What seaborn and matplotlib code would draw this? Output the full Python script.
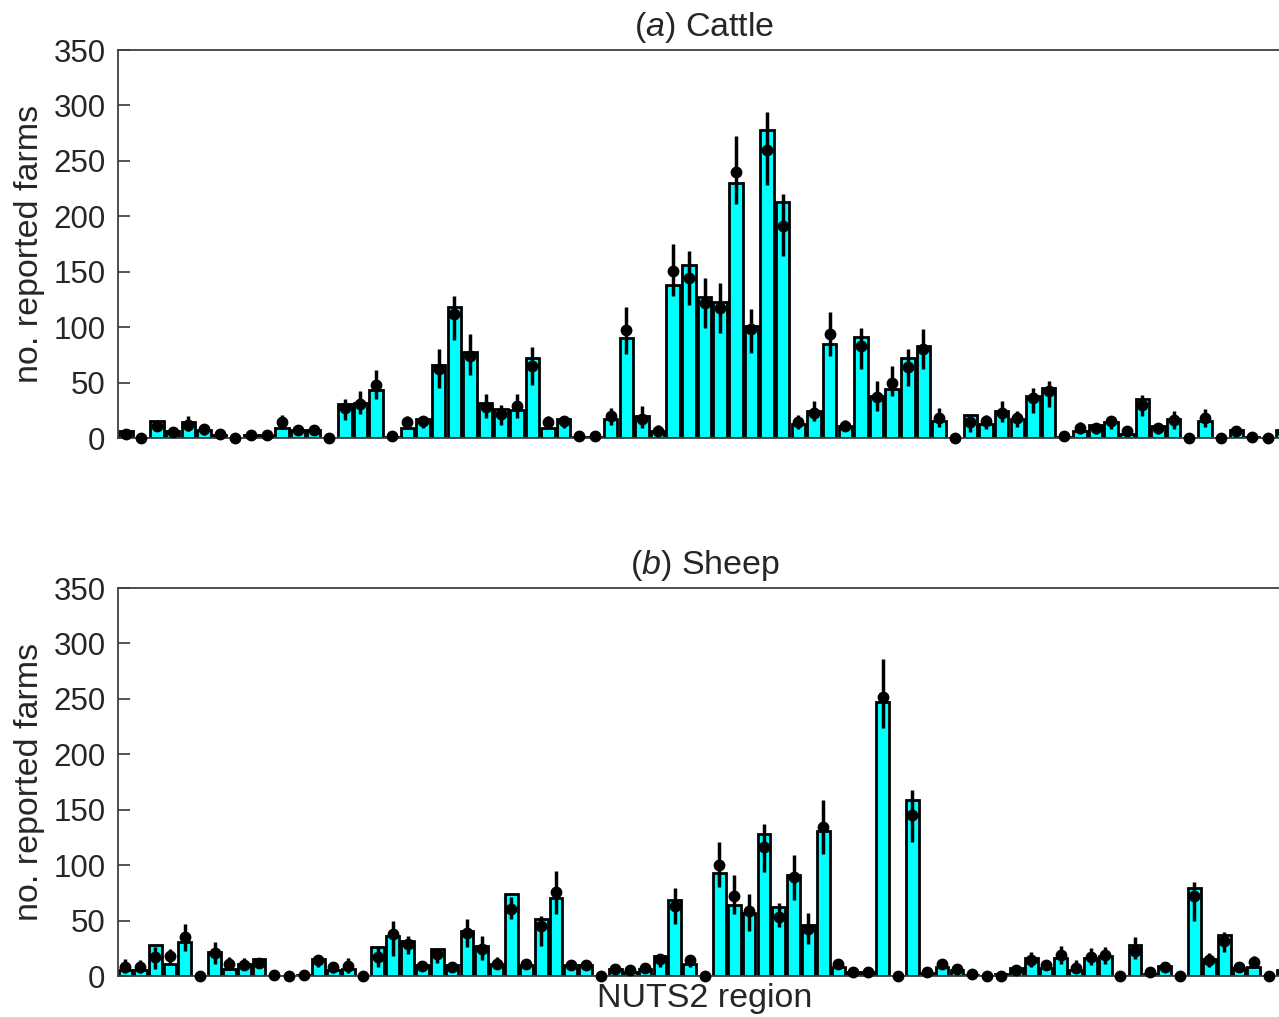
import numpy as np
import pandas as pd
import matplotlib
matplotlib.use("Agg")
import matplotlib.pyplot as plt
import seaborn as sns

# Cattle: reported farms per NUTS2 region, model mean and its interval
cattle_obs = [6, 0, 15, 6, 14, 7, 3, 0, 3, 3,
              9, 7, 7, 0, 31, 32, 43, 1, 9, 17,
              66, 118, 78, 32, 26, 25, 72, 9, 17, 1,
              1, 17, 90, 20, 6, 138, 156, 127, 123, 230,
              101, 278, 213, 13, 24, 85, 11, 91, 38, 44,
              72, 83, 15, 0, 21, 13, 24, 17, 38, 45,
              1, 6, 12, 14, 4, 35, 11, 17, 0, 15,
              0, 7, 1, 0, 7]
cattle_model = [4, 0, 11, 5, 12, 8, 4, 0, 3, 3,
                14, 7, 7, 0, 27, 31, 48, 2, 14, 15,
                62, 112, 74, 28, 22, 29, 65, 14, 15, 2,
                2, 20, 97, 17, 6, 151, 144, 122, 117, 240,
                98, 260, 191, 14, 23, 94, 11, 83, 37, 50,
                64, 80, 18, 0, 14, 15, 23, 18, 36, 42,
                2, 9, 9, 15, 6, 30, 9, 16, 0, 18,
                0, 6, 1, 0, 5]
cattle_lo = [1, 0, 6, 2, 6, 3, 1, 0, 1, 1,
             8, 3, 3, 0, 16, 22, 35, 0, 8, 9,
             45, 88, 57, 18, 12, 18, 48, 8, 9, 0,
             0, 12, 76, 9, 2, 128, 120, 99, 95, 211,
             77, 228, 164, 8, 15, 74, 6, 62, 24, 38,
             47, 62, 10, 0, 5, 8, 14, 10, 23, 28,
             0, 4, 4, 8, 2, 20, 4, 8, 0, 10,
             0, 2, 0, 0, 2]
cattle_hi = [8, 1, 16, 8, 20, 13, 7, 1, 6, 5,
             21, 10, 10, 1, 35, 42, 61, 4, 20, 20,
             80, 128, 94, 40, 30, 40, 82, 20, 20, 3,
             3, 27, 118, 29, 12, 175, 169, 144, 140, 272,
             116, 294, 220, 21, 33, 114, 16, 99, 51, 65,
             80, 98, 27, 1, 21, 21, 33, 24, 45, 51,
             4, 14, 12, 20, 11, 39, 11, 24, 1, 26,
             1, 8, 3, 1, 10]

# Sheep: reported farms per NUTS2 region, model mean and its interval
sheep_obs = [5, 5, 28, 11, 31, 0, 22, 6, 11, 15,
             0, 0, 1, 15, 5, 6, 0, 26, 36, 32,
             10, 24, 10, 41, 27, 11, 74, 10, 51, 70,
             10, 10, 0, 6, 4, 6, 18, 69, 11, 0,
             93, 64, 57, 128, 62, 91, 46, 131, 8, 4,
             4, 247, 0, 159, 3, 8, 5, 1, 0, 2,
             7, 16, 7, 16, 5, 16, 18, 0, 28, 2,
             9, 0, 79, 15, 37, 7, 8, 0, 5]
sheep_model = [8, 8, 17, 18, 35, 0, 21, 11, 10, 12,
               1, 0, 1, 14, 8, 9, 0, 17, 38, 29,
               9, 20, 8, 39, 24, 11, 60, 11, 45, 76,
               10, 10, 0, 6, 5, 7, 15, 63, 14, 0,
               100, 72, 59, 116, 53, 89, 42, 134, 11, 4,
               4, 252, 0, 145, 4, 11, 6, 2, 0, 0,
               5, 14, 10, 19, 7, 17, 19, 0, 23, 4,
               8, 0, 72, 14, 32, 8, 13, 0, 4]
sheep_lo = [3, 3, 6, 11, 23, 0, 11, 5, 5, 7,
            0, 0, 0, 8, 3, 3, 0, 8, 18, 20,
            5, 12, 4, 26, 14, 6, 51, 7, 27, 56,
            6, 6, 0, 3, 2, 3, 8, 47, 8, 0,
            80, 56, 41, 94, 44, 69, 29, 110, 6, 1,
            1, 224, 0, 121, 1, 6, 2, 0, 0, 0,
            2, 8, 5, 11, 3, 10, 11, 0, 15, 1,
            5, 0, 50, 8, 22, 4, 7, 0, 1]
sheep_hi = [15, 14, 26, 24, 47, 1, 31, 17, 16, 15,
            2, 1, 3, 19, 13, 16, 1, 27, 50, 36,
            12, 24, 12, 51, 36, 17, 71, 14, 54, 95,
            14, 13, 1, 8, 8, 10, 20, 79, 18, 1,
            121, 91, 74, 137, 66, 109, 57, 159, 15, 7,
            7, 286, 1, 168, 6, 15, 9, 4, 1, 1,
            10, 22, 13, 27, 14, 25, 26, 1, 35, 8,
            10, 1, 85, 21, 40, 13, 18, 1, 8]

y_ticks = [0, 50, 100, 150, 200, 250, 300, 350]
titles = [r"($\mathit{a}$) Cattle", r"($\mathit{b}$) Sheep"]
y_label = "no. reported farms"
x_label = "NUTS2 region"

sns.set_style("white")
plt.rcParams.update({
    "font.family": ["Liberation Sans", "DejaVu Sans"],
    "mathtext.fontset": "custom",
    "mathtext.rm": "Liberation Sans",
    "mathtext.it": "Liberation Sans:italic",
})

TXT = "#262626"
LABEL_FS = 24.5
TICK_FS = 22.5
W, H = 1279, 1017
fig = plt.figure(figsize=(W / 100, H / 100), dpi=100)
ax_a = fig.add_axes([118 / W, 1 - 438 / H, 1173 / W, 388 / H])
ax_b = fig.add_axes([118 / W, 1 - 976 / H, 1173 / W, 388 / H])


def draw_panel(ax, obs, model, lo, hi, title):
    n = len(obs)
    df = pd.DataFrame({"region": np.arange(n), "farms": obs})
    sns.barplot(data=df, x="region", y="farms", color="#00FFFF", saturation=1,
                edgecolor="black", linewidth=2.0, width=0.86, errorbar=None, ax=ax)
    x = np.arange(n)
    m = np.asarray(model, float)
    err = [m - np.asarray(lo, float), np.asarray(hi, float) - m]
    eb = ax.errorbar(x, m, yerr=err, fmt="o", color="black", ms=7.5,
                     elinewidth=2.5, capsize=0, zorder=5)
    eb[0].set_clip_on(False)
    for c in eb[2]:
        c.set_clip_on(False)
    ax.set_xlim(-0.5, n - 0.5)
    ax.set_ylim(0, 350)
    ax.set_yticks(y_ticks)
    ax.set_xticks([])
    ax.set_xlabel("")
    ax.set_ylabel(y_label, fontsize=LABEL_FS, color=TXT, labelpad=6)
    ax.set_title(title, fontsize=LABEL_FS, color=TXT, pad=10)
    ax.tick_params(axis="y", direction="in", length=8.6, width=1.1,
                   left=True, right=True, labelsize=TICK_FS, colors=TXT, pad=9)
    for s in ax.spines.values():
        s.set_visible(True)
        s.set_color("#404040")
        s.set_linewidth(1.3)


draw_panel(ax_a, cattle_obs, cattle_model, cattle_lo, cattle_hi, titles[0])
draw_panel(ax_b, sheep_obs, sheep_model, sheep_lo, sheep_hi, titles[1])
ax_b.set_xlabel(x_label, fontsize=LABEL_FS, color=TXT, labelpad=5)

fig.savefig("out.png", dpi=100)
